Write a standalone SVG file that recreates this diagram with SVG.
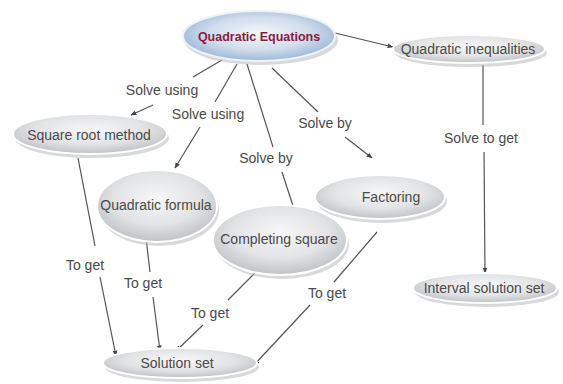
<svg xmlns="http://www.w3.org/2000/svg" width="563" height="384" viewBox="0 0 563 384">
<defs>
<radialGradient id="gGray" cx="50%" cy="40%" r="60%">
<stop offset="0" stop-color="#f7f7f8"/>
<stop offset="0.6" stop-color="#e2e3e5"/>
<stop offset="1" stop-color="#c0c1c5"/>
</radialGradient>
<radialGradient id="gBlue" cx="50%" cy="45%" r="60%">
<stop offset="0" stop-color="#f4f7fb"/>
<stop offset="0.55" stop-color="#d0ddec"/>
<stop offset="1" stop-color="#92b0d4"/>
</radialGradient>
<marker id="arr" viewBox="0 0 10 10" refX="9" refY="5" markerWidth="6" markerHeight="6" orient="auto" markerUnits="userSpaceOnUse">
<path d="M0,1 L10,5 L0,9 z" fill="#444"/>
</marker>
</defs>
<style>
.sh{fill:#b9babd;opacity:0.55}
.nd{fill:url(#gGray);stroke:#ffffff;stroke-width:2}
.ndb{fill:url(#gBlue);stroke:#eef3f9;stroke-width:2}
.t{font-family:"Liberation Sans",Arial,sans-serif;font-size:14px;fill:#4a4a4a;text-anchor:middle}
.tq{font-family:"Liberation Sans",Arial,sans-serif;font-size:12.5px;font-weight:bold;fill:#8e1a3c;text-anchor:middle}
.c{stroke:#555;stroke-width:1.2;fill:none}
.a{marker-end:url(#arr)}
</style>
<rect width="563" height="384" fill="#ffffff"/>

<g id="connectors">
<line class="c a" x1="335" y1="33" x2="393" y2="47"/>
<line class="c" x1="222" y1="60" x2="193" y2="77"/>
<line class="c a" x1="153" y1="105" x2="131" y2="115"/>
<line class="c" x1="237" y1="64" x2="215" y2="102"/>
<line class="c a" x1="200" y1="127" x2="175" y2="168"/>
<line class="c" x1="247" y1="64" x2="273" y2="147"/>
<line class="c a" x1="282" y1="172" x2="295" y2="212"/>
<line class="c" x1="272" y1="68" x2="318" y2="112"/>
<line class="c a" x1="345" y1="137" x2="372" y2="158"/>
<line class="c" x1="483" y1="65" x2="483" y2="125"/>
<line class="c a" x1="484" y1="152" x2="485" y2="273"/>
<line class="c" x1="78" y1="158" x2="95" y2="246"/>
<line class="c a" x1="100" y1="277" x2="116" y2="356"/>
<line class="c" x1="146" y1="238" x2="150" y2="272"/>
<line class="c a" x1="153" y1="297" x2="160" y2="351"/>
<line class="c" x1="256" y1="272" x2="228" y2="300"/>
<line class="c a" x1="203" y1="325" x2="176" y2="351"/>
<line class="c" x1="377" y1="232" x2="334" y2="282"/>
<line class="c a" x1="310" y1="305" x2="254" y2="365"/>
<g class="t">
<text x="162" y="95">Solve using</text>
<text x="208" y="119">Solve using</text>
<text x="266" y="163">Solve by</text>
<text x="325" y="128">Solve by</text>
<text x="481" y="143">Solve to get</text>
<text x="85" y="270">To get</text>
<text x="143" y="288">To get</text>
<text x="210" y="318">To get</text>
<text x="327" y="298">To get</text>
</g>
</g>

<g id="quadratic-equations">
<ellipse class="sh" cx="261" cy="40" rx="77" ry="25"/>
<ellipse class="ndb" cx="259" cy="36" rx="76" ry="25"/>
<text class="tq" x="259" y="41">Quadratic Equations</text>
</g>

<g id="quadratic-inequalities">
<ellipse class="sh" cx="471" cy="53" rx="76" ry="14"/>
<ellipse class="nd" cx="469" cy="49" rx="76" ry="14"/>
<text class="t" x="468" y="54">Quadratic inequalities</text>
</g>

<g id="square-root-method">
<ellipse class="sh" cx="92" cy="138" rx="77" ry="20"/>
<ellipse class="nd" cx="90" cy="134" rx="77" ry="20"/>
<text class="t" x="89" y="140">Square root method</text>
</g>

<g id="quadratic-formula">
<ellipse class="sh" cx="159" cy="210" rx="60" ry="36"/>
<ellipse class="nd" cx="157" cy="206" rx="60" ry="36"/>
<text class="t" x="156" y="210">Quadratic formula</text>
</g>

<g id="factoring">
<ellipse class="sh" cx="382" cy="201" rx="65" ry="22"/>
<ellipse class="nd" cx="380" cy="197" rx="65" ry="22"/>
<text class="t" x="391" y="202">Factoring</text>
</g>

<g id="completing-square">
<ellipse class="sh" cx="282" cy="244" rx="67" ry="35"/>
<ellipse class="nd" cx="280" cy="240" rx="67" ry="35"/>
<text class="t" x="279" y="244">Completing square</text>
</g>

<g id="solution-set">
<ellipse class="sh" cx="182" cy="367" rx="77" ry="15"/>
<ellipse class="nd" cx="180" cy="363" rx="77" ry="15"/>
<text class="t" x="177" y="368">Solution set</text>
</g>

<g id="interval-solution-set">
<ellipse class="sh" cx="487" cy="292" rx="72" ry="15"/>
<ellipse class="nd" cx="485" cy="288" rx="72" ry="15"/>
<text class="t" x="484" y="293">Interval solution set</text>
</g>
</svg>
